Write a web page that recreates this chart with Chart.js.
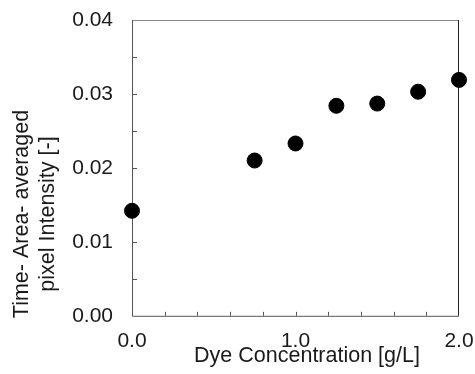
<!DOCTYPE html>
<html>
<head>
<meta charset="utf-8">
<script src="https://cdn.jsdelivr.net/npm/chart.js@4/dist/chart.umd.min.js"></script>
<style>
  body { margin: 0; background: #fff; }
  #wrap { width: 475px; height: 374px; }
</style>
</head>
<body>
<div id="wrap"><canvas id="dyeChart" width="475" height="374"></canvas></div>
<script>
    // Datos
    const concentration = [0, 0.75, 1.0, 1.25, 1.5, 1.75, 2.0];
    const intensity = [0.0142, 0.0210, 0.0233, 0.0284, 0.0287, 0.0303, 0.0319];
    const xTickLabels = ['0.0', '1.0', '2.0'];
    const yTickLabels = ['0.00', '0.01', '0.02', '0.03', '0.04'];
    const xTitle = 'Dye Concentration [g/L]';
    const yTitle = ['Time- Area- averaged', 'pixel Intensity [-]'];

    const FONT = '"Liberation Sans", Arial, sans-serif';

    // Marco y marcas hacia adentro
    const framePlugin = {
        id: 'frame',
        beforeDatasetsDraw(chart) {
            const { ctx, chartArea: a, scales } = chart;
            ctx.save();
            ctx.lineWidth = 1;
            // marco superior y derecho
            ctx.strokeStyle = '#8a8a8a';
            ctx.beginPath();
            ctx.moveTo(a.left, a.top + 0.5);
            ctx.lineTo(a.right, a.top + 0.5);
            ctx.stroke();
            ctx.strokeStyle = '#222';
            ctx.beginPath();
            ctx.moveTo(a.right - 0.5, a.top);
            ctx.lineTo(a.right - 0.5, a.bottom);
            ctx.stroke();
            // ejes izquierdo e inferior
            ctx.strokeStyle = '#555';
            ctx.beginPath();
            ctx.moveTo(a.left + 0.5, a.top);
            ctx.lineTo(a.left + 0.5, a.bottom + 0.5);
            ctx.lineTo(a.right, a.bottom + 0.5);
            ctx.stroke();
            // marcas en y cada 0.005
            ctx.beginPath();
            for (let i = 1; i < 8; i++) {
                const y = Math.round(scales.y.getPixelForValue(i * 0.005)) + 0.5;
                ctx.moveTo(a.left, y);
                ctx.lineTo(a.left + 5, y);
            }
            // marcas en x cada 0.2
            for (let i = 1; i < 10; i++) {
                const x = Math.round(scales.x.getPixelForValue(i * 0.2)) + 0.5;
                ctx.moveTo(x, a.bottom);
                ctx.lineTo(x, a.bottom - 4);
            }
            ctx.stroke();
            ctx.restore();
        },
        afterDraw(chart) {
            const { ctx } = chart;
            ctx.save();
            ctx.fillStyle = '#1a1a1a';
            ctx.font = '21.5px ' + FONT;
            ctx.textAlign = 'center';
            ctx.textBaseline = 'middle';
            ctx.fillText(xTitle, 307, 356);
            ctx.translate(0, 214);
            ctx.rotate(-Math.PI / 2);
            ctx.fillText(yTitle[0], 0, 22);
            ctx.fillText(yTitle[1], 0, 48);
            ctx.restore();
        }
    };

    const ctx = document.getElementById('dyeChart').getContext('2d');
    const dyeChart = new Chart(ctx, {
        type: 'scatter',
        data: {
            datasets: [{
                data: concentration.map((c, i) => ({ x: c, y: intensity[i] })),
                backgroundColor: '#000',
                borderColor: '#000',
                pointRadius: 7.5,
                pointHoverRadius: 7.5,
                clip: false
            }]
        },
        options: {
            responsive: false,
            animation: false,
            layout: { padding: { left: 72, right: 16, top: 20, bottom: 7 } },
            plugins: { legend: { display: false }, tooltip: { enabled: false } },
            scales: {
                x: {
                    type: 'linear',
                    min: 0,
                    max: 2,
                    grid: { display: false, drawTicks: false },
                    border: { display: false },
                    afterFit: (scale) => { scale.paddingLeft = 0; scale.paddingRight = 0; },
                    ticks: {
                        stepSize: 1,
                        padding: 13,
                        color: '#1a1a1a',
                        font: { family: FONT, size: 21 },
                        maxRotation: 0,
                        callback: (v) => xTickLabels[Math.round(v)]
                    }
                },
                y: {
                    min: 0,
                    max: 0.04,
                    grid: { display: false, drawTicks: false },
                    border: { display: false },
                    afterFit: (scale) => { scale.width = 60; scale.paddingTop = 0; scale.paddingBottom = 0; },
                    ticks: {
                        stepSize: 0.01,
                        padding: 19,
                        color: '#1a1a1a',
                        font: { family: FONT, size: 21 },
                        callback: (v) => yTickLabels[Math.round(v * 100)]
                    }
                }
            }
        },
        plugins: [framePlugin]
    });
</script>
</body>
</html>
